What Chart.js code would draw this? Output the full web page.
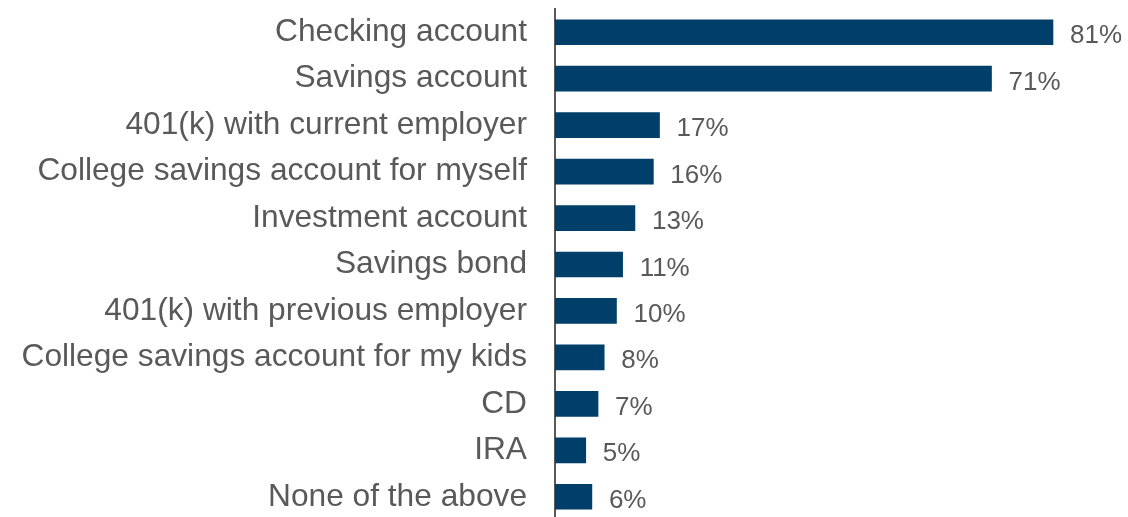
<!DOCTYPE html>
<html>
<head>
<meta charset="utf-8">
<script src="https://cdn.jsdelivr.net/npm/chart.js@4.4.0/dist/chart.umd.min.js"></script>
<style>
  html, body { margin: 0; padding: 0; background: #ffffff; overflow: hidden; }
  #wrap { position: relative; width: 1128px; height: 520px; }
</style>
</head>
<body>
<div id="wrap"><canvas id="c"></canvas></div>
<script>
const categories = [
  "Checking account",
  "Savings account",
  "401(k) with current employer",
  "College savings account for myself",
  "Investment account",
  "Savings bond",
  "401(k) with previous employer",
  "College savings account for my kids",
  "CD",
  "IRA",
  "None of the above"
];
const values = [81, 71, 17, 16, 13, 11, 10, 8, 7, 5, 6];
const valueLabels = ["81%", "71%", "17%", "16%", "13%", "11%", "10%", "8%", "7%", "5%", "6%"];

const FONT = "'Liberation Sans', Arial, Helvetica, sans-serif";
const TEXT = "#595959";

const valueLabelPlugin = {
  id: 'valueLabels',
  afterDatasetsDraw(chart) {
    const ctx = chart.ctx;
    const meta = chart.getDatasetMeta(0);
    ctx.save();
    ctx.font = "26px " + FONT;
    ctx.fillStyle = TEXT;
    ctx.textAlign = 'left';
    ctx.textBaseline = 'alphabetic';
    meta.data.forEach((bar, i) => {
      ctx.fillText(valueLabels[i], bar.x + 17, bar.y + 11);
    });
    ctx.restore();
  }
};

new Chart(document.getElementById('c'), {
  type: 'bar',
  data: {
    labels: categories,
    datasets: [{
      data: values,
      backgroundColor: '#003f69',
      borderWidth: 0,
      barThickness: 25
    }]
  },
  options: {
    indexAxis: 'y',
    responsive: true,
    maintainAspectRatio: false,
    animation: false,
    layout: { padding: { left: 0, right: 0, top: 9, bottom: 0 } },
    plugins: { legend: { display: false }, tooltip: { enabled: false } },
    scales: {
      x: {
        display: false,
        min: 0,
        max: 93.2
      },
      y: {
        grid: { display: false, drawTicks: false },
        border: { display: true, color: '#595959', width: 2 },
        ticks: {
          color: TEXT,
          font: { family: FONT, size: 31.7 },
          padding: 28,
          autoSkip: false
        },
        afterFit(scale) {
          scale.width = 555;
          scale.paddingTop = 0;
          scale.paddingBottom = 0;
        }
      }
    }
  },
  plugins: [valueLabelPlugin]
});
</script>
</body>
</html>
